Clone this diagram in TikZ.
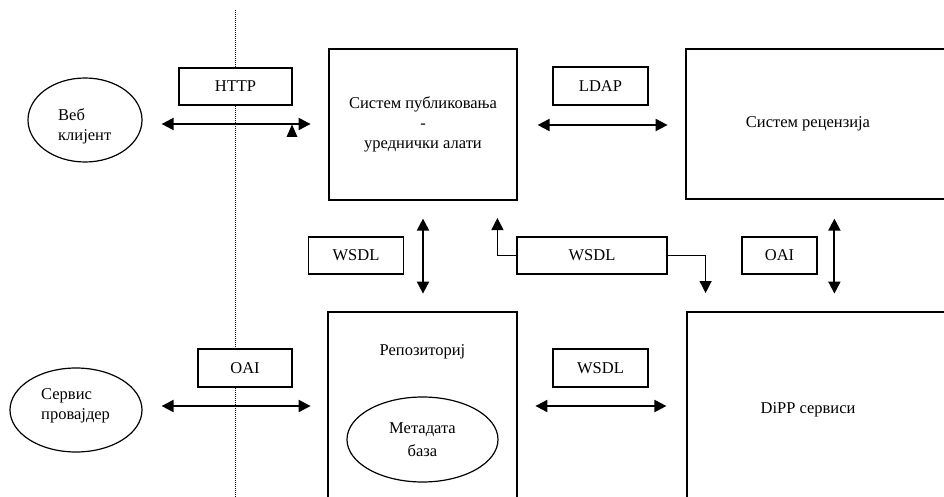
\documentclass[tikz,border=0pt]{standalone}
\usepackage{fontspec}
\setmainfont{Liberation Serif}
\usetikzlibrary{arrows.meta,shapes.geometric}
\begin{document}
\begin{tikzpicture}[x=1pt,y=-1pt,
  txt/.style={font=\fontsize{16.5}{20}\selectfont, inner sep=0pt},
  bigbox/.style={draw, line width=1.2pt, inner sep=0pt},
  tagbox/.style={draw, fill=white, line width=1.2pt, inner sep=0pt, font=\fontsize{16.5}{20}\selectfont},
  oval/.style={draw, ellipse, line width=1.2pt, inner sep=0pt},
  both/.style={line width=2pt, {Triangle[length=12pt,width=12pt]}-{Triangle[length=12pt,width=12pt]}},
  single/.style={line width=1.2pt, -{Triangle[length=12pt,width=12pt]}}]
\useasboundingbox (0,0) rectangle (944,497);
\clip (0,0) rectangle (944,497);
\fill[white] (0,0) rectangle (944,497);

% dotted separator
\coordinate (dtop) at (235,10);
\coordinate (dbot) at (235,497);
\draw[line width=0.8pt, dash pattern=on 1pt off 1pt] (dtop) -- (dbot);

% main boxes
\node[bigbox, minimum width=188pt, minimum height=151pt, align=center, txt] (pub) at (423,124.5)
  {Систем публиковања\\-\\уреднички алати};
\node[bigbox, minimum width=280pt, minimum height=150pt] (rec) at (826,124) {};
\node[txt] (rect) at (808,124) {Систем рецензија};
\node[bigbox, minimum width=189pt, minimum height=200pt] (repo) at (422.5,412) {};
\node[txt] (repot) at (422.5,352) {Репозиториј};
\node[bigbox, minimum width=280pt, minimum height=200pt] (dipp) at (827,412) {};
\node[txt] (dippt) at (808,410) {DiPP сервиси};

% ellipses
\node[oval, minimum width=114pt, minimum height=84pt] (web) at (85,120) {};
\node[txt, anchor=west, align=left] (webt) at (58,126) {Веб\\клијент};
\node[oval, minimum width=132pt, minimum height=84pt] (serv) at (76,410) {};
\node[txt, anchor=west, align=left] (servt) at (41,406) {Сервис\\провајдер};
\node[oval, minimum width=151pt, minimum height=85pt] (meta) at (422.5,439.5) {};
\node[txt, align=center, font=\fontsize{16.5}{23}\selectfont] (metat) at (422.5,440) {Метадата\\база};

% protocol tags
\node[tagbox, minimum width=113pt, minimum height=37pt] (http) at (235.5,86.5) {HTTP};
\node[tagbox, minimum width=95pt, minimum height=38pt] (ldap) at (600.5,86) {LDAP};
\node[tagbox, minimum width=95pt, minimum height=37pt] (wsdla) at (356,255.5) {WSDL};
\node[tagbox, minimum width=150pt, minimum height=37pt] (wsdlb) at (592,255.5) {WSDL};
\node[tagbox, minimum width=75pt, minimum height=37pt] (oaib) at (779.5,255.5) {OAI};
\node[tagbox, minimum width=94pt, minimum height=38pt] (oaia) at (245,368) {OAI};
\node[tagbox, minimum width=95pt, minimum height=38pt] (wsdlc) at (600.5,368) {WSDL};

% connectors
\draw[both] (web.east) ++(19,4) -- ++(149,0);
\fill (292,124.5) -- (297.5,137) -- (286.5,137) -- cycle;
\draw[both] (pub.east) ++(20,0.5) -- ++(130,0);
\draw[both] (pub.south) ++(0,18) -- ++(0,75);
\draw[single] (wsdlb.west) -| ++(-19,-37.5);
\draw[single] (wsdlb.east) -| ++(38,37.5);
\draw[both] (rec.south west) ++(149,19) -- ++(0,75);
\draw[both] (serv.east) ++(19,-4) -- ++(149,0);
\draw[both] (repo.west) ++(208,-6) -- ++(131,0);
\end{tikzpicture}
\end{document}
